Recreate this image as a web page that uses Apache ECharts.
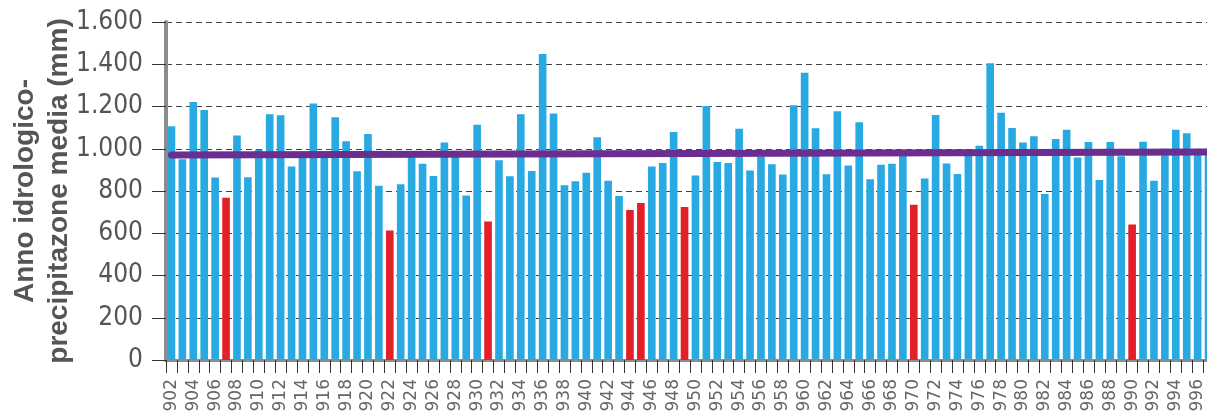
<!DOCTYPE html>
<html>
<head>
<meta charset="utf-8">
<script src="https://cdn.jsdelivr.net/npm/echarts@6/dist/echarts.min.js"></script>
<style>
html,body{margin:0;padding:0;background:#fff;}
#chart{width:1207px;height:413px;}
</style>
</head>
<body>
<div id="chart"></div>
<script>
const years = ['1902','1903','1904','1905','1906','1907','1908','1909','1910','1911',
'1912','1913','1914','1915','1916','1917','1918','1919','1920','1921',
'1922','1923','1924','1925','1926','1927','1928','1929','1930','1931',
'1932','1933','1934','1935','1936','1937','1938','1939','1940','1941',
'1942','1943','1944','1945','1946','1947','1948','1949','1950','1951',
'1952','1953','1954','1955','1956','1957','1958','1959','1960','1961',
'1962','1963','1964','1965','1966','1967','1968','1969','1970','1971',
'1972','1973','1974','1975','1976','1977','1978','1979','1980','1981',
'1982','1983','1984','1985','1986','1987','1988','1989','1990','1991',
'1992','1993','1994','1995','1996','1997'];

const rainfall = [1106,950,1221,1183,864,768,1063,865,995,1163,
1159,916,960,1214,960,1149,1035,894,1070,825,
613,832,965,929,871,1029,965,779,1114,656,
946,870,1163,895,1449,1167,827,846,886,1054,
849,776,710,743,916,933,1079,724,873,1202,
937,933,1095,897,963,927,878,1206,1360,1097,
879,1178,921,1125,856,924,929,975,735,859,
1160,930,881,975,1014,1405,1170,1098,1030,1059,
786,1046,1090,959,1032,852,1032,965,641,1033,
848,1000,1090,1073,1000,1000];

const dryYears = ['1907','1922','1931','1944','1945','1949','1970','1990'];

const trendEnds = [971, 985];

const yTickLabels = ['0','200','400','600','800','1.000','1.200','1.400','1.600'];

const BLUE = '#29a9e1';
const RED = '#e2202a';

const barData = years.map((y, i) => ({
  value: rainfall[i],
  itemStyle: { color: dryYears.includes(y) ? RED : BLUE }
}));
const trendData = years.map((y, i) =>
  i === 0 ? trendEnds[0] : (i === years.length - 1 ? trendEnds[1] : null));

const chart = echarts.init(document.getElementById('chart'), null, {renderer: 'canvas'});
chart.setOption({
  animation: false,
  backgroundColor: '#ffffff',
  grid: { left: 166, right: -7, top: 22, bottom: 53, containLabel: false, outerBoundsMode: 'none' },
  xAxis: {
    type: 'category',
    data: years,
    boundaryGap: true,
    axisLine: { show: true, lineStyle: { color: '#8c8c8c', width: 3 } },
    axisTick: { show: true, interval: 0, length: 13, lineStyle: { color: '#333', width: 1 } },
    axisLabel: {
      interval: 1, rotate: 90, margin: 19,
      fontFamily: "'DejaVu Sans', sans-serif", fontSize: 17, color: '#666'
    },
    splitLine: { show: false }
  },
  yAxis: {
    type: 'value',
    min: 0, max: 1600, interval: 200,
    name: 'Anno idrologico-\nprecipitazone media (mm)',
    nameLocation: 'middle',
    nameRotate: 90,
    nameGap: 90,
    nameMoveOverlap: false,
    nameTextStyle: {
      fontFamily: "'Liberation Sans', Arial, sans-serif",
      fontWeight: 'bold', fontSize: 28, lineHeight: 34, color: '#555', align: 'center'
    },
    axisLine: { show: true, lineStyle: { color: '#8c8c8c', width: 4 } },
    axisTick: { show: true, length: 14, lineStyle: { color: '#333', width: 1 } },
    axisLabel: {
      margin: 23,
      fontFamily: "'DejaVu Sans Condensed', sans-serif",
      fontSize: 26, color: '#555',
      formatter: v => yTickLabels[Math.round(v / 200)]
    },
    splitLine: { show: true, lineStyle: { color: '#444', width: 1.2, type: [6, 4] } }
  },
  series: [
    {
      type: 'bar',
      data: barData,
      barWidth: '70%',
      z: 2
    },
    {
      type: 'line',
      data: trendData,
      connectNulls: true,
      showSymbol: false,
      symbol: 'none',
      lineStyle: { color: '#6b2d8f', width: 7, cap: 'round' },
      z: 3
    }
  ]
});
</script>
</body>
</html>
